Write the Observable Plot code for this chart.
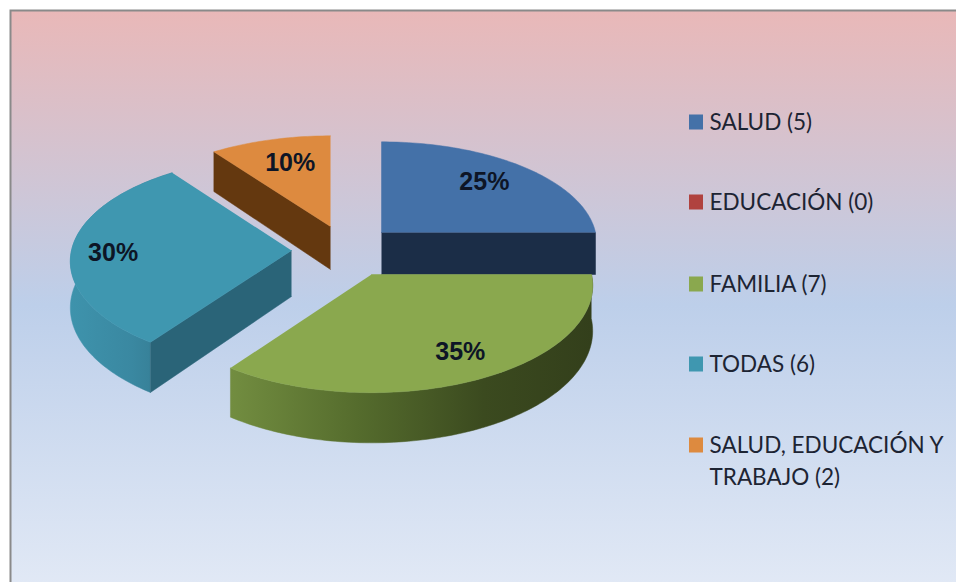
<!DOCTYPE html>
<html><head><meta charset="utf-8">
<script src="https://cdn.jsdelivr.net/npm/d3@7"></script>
<script src="https://cdn.jsdelivr.net/npm/@observablehq/plot@0.6"></script>
<style>html,body{margin:0;padding:0;background:#fff;overflow:hidden}svg{display:block}</style>
</head><body><div id="chart"></div>
<script>
const categories = ["SALUD","EDUCACIÓN","FAMILIA","TODAS","SALUD, EDUCACIÓN Y\nTRABAJO"];
const values = [5,0,7,6,2];
const topColors = ["#4471a8","#b0423f","#8aa84e","#3f97b0","#dd8a3f"];
const cutColors = ["#1b2d47","#6b2320","url(#wallGreen)","#2a6478","#64380f"];
// placement of each exploded slice: centre, radii, wall depth, label radius and nudge
const centerX = [381,0,371,291,330];
const centerY = [232,0,274,250,226];
const radiusX = [214,0,220,220,215];
const radiusY = [100,0,106,104,100];
const depth   = [42,0,45,46,43];
const labelR  = [.73,0,.77,.82,.73];
const labelDx = [-2,0,6,2,5];
const labelDy = [-1,0,-1,2,1];
const legendY = [122,202,284,364,445];
const W = 956, H = 582, persp = 0.103, TAU = Math.PI*2;

const total = d3.sum(values);
const cum = d3.cumsum(values);
const slices = categories.map((name,i)=>({
  i, name, value:values[i],
  a0:(cum[i]-values[i])/total*TAU, a1:cum[i]/total*TAU,
  pct:Math.round(values[i]/total*100)+"%"
}));
const project = (s,a,r,down=0)=>{
  const X=Math.sin(a)*r, Y=-Math.cos(a)*r, k=1/(1-persp*Y);
  return [centerX[s.i]+radiusX[s.i]*X*k, centerY[s.i]+radiusY[s.i]*Y*k+down*k];
};
const arcAngles=(a0,a1)=>{const n=Math.max(2,Math.ceil((a1-a0)/0.02));return d3.range(n+1).map(j=>a0+(a1-a0)*j/n);};
const poly=(id,pts)=>pts.map(p=>({id,x:p[0],y:p[1]}));

const shown = slices.filter(s=>s.value>0);
function topFace(s){return poly("top"+s.i,[project(s,0,0),...arcAngles(s.a0,s.a1).map(a=>project(s,a,1))]);}
function cutWall(s,a){return poly("cut"+s.i+a,[project(s,a,0),project(s,a,1),project(s,a,1,depth[s.i]),project(s,a,0,depth[s.i])]);}
function rimWall(s){
  const as=arcAngles(s.a0,s.a1);
  return poly("rim"+s.i,[...as.map(a=>project(s,a,1)),...as.slice().reverse().map(a=>project(s,a,1,depth[s.i]))]);
}
const [sBlue,sGreen,sTeal,sOrange] = shown;
const fillMark=(pts,fill)=>Plot.line(pts,{x:"x",y:"y",fill,stroke:fill,strokeWidth:0.5,curve:"linear"});

const defs = () => {
  const d = d3.create("svg:defs");
  const grad=(id,x2,y2,stops)=>{
    const g=d.append("linearGradient").attr("id",id).attr("x1",0).attr("y1",0).attr("x2",x2).attr("y2",y2);
    stops.forEach(([o,c])=>g.append("stop").attr("offset",o).attr("stop-color",c));
  };
  grad("bg",0,1,[[0,"#e9b8b8"],[.5,"#bdcfea"],[1,"#e3eaf6"]]);
  grad("wallGreen",1,0,[[0,"#728d40"],[.35,"#556c2d"],[.7,"#3b4a1f"],[1,"#333f1b"]]);
  grad("wallTeal",1,0,[[0,"#3e93ac"],[.6,"#3a88a1"],[1,"#347a90"]]);
  return d.node();
};

const legendRows = slices.map((s,i)=>({label:s.name+" ("+s.value+")",color:topColors[i],y:legendY[i]}));

const plot = Plot.plot({
  width:W,height:H,margin:0,
  x:{domain:[0,W],range:[0,W],axis:null},
  y:{domain:[0,H],range:[0,H],axis:null},
  style:{background:"#fff"},
  marks:[
    defs,
    Plot.rect([{}],{x1:()=>10.5,x2:()=>975,y1:()=>10.5,y2:()=>600,fill:"url(#bg)",stroke:"#8a8a8a",strokeWidth:2}),
    // orange slice
    fillMark(cutWall(sOrange,sOrange.a0),cutColors[4]),
    fillMark(topFace(sOrange),topColors[4]),
    // teal slice
    fillMark(rimWall(sTeal),"url(#wallTeal)"),
    fillMark(cutWall(sTeal,sTeal.a0),cutColors[3]),
    fillMark(topFace(sTeal),topColors[3]),
    // blue slice
    fillMark(cutWall(sBlue,sBlue.a1),cutColors[0]),
    fillMark(topFace(sBlue),topColors[0]),
    // green slice
    fillMark(rimWall(sGreen),cutColors[2]),
    fillMark(topFace(sGreen),topColors[2]),
    // percent labels
    Plot.text(shown,{
      x:s=>project(s,(s.a0+s.a1)/2,labelR[s.i])[0]+labelDx[s.i],
      y:s=>project(s,(s.a0+s.a1)/2,labelR[s.i])[1]+labelDy[s.i],
      text:"pct",fontFamily:"Liberation Sans",fontWeight:"bold",fontSize:25,fill:"#0d1526"
    }),
    // legend
    Plot.rect(legendRows,{x1:()=>689,x2:()=>703,y1:d=>d.y-7.5,y2:d=>d.y+7.5,fill:"color"}),
    Plot.text(legendRows,{x:()=>709,y:d=>d.y,text:"label",textAnchor:"start",lineAnchor:"top",dy:-16,lineHeight:1.45,fontFamily:"Lato",fontSize:22.5,fill:"#1d2433"})
  ]
});
document.getElementById("chart").append(plot);
</script></body></html>
